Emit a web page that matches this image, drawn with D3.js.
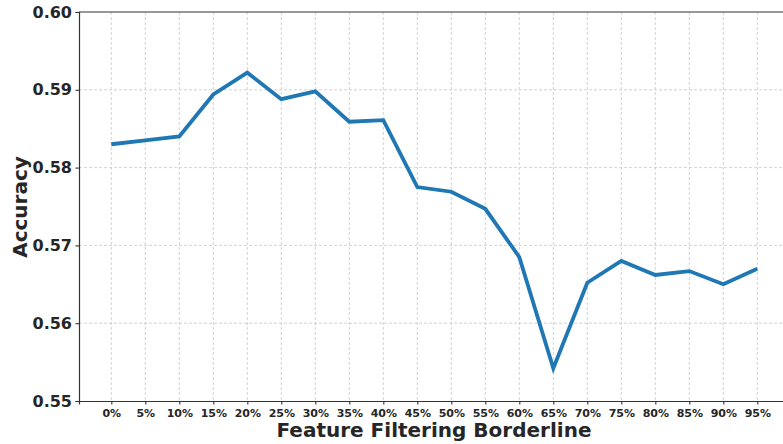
<!DOCTYPE html>
<html><head><meta charset="utf-8">
<script src="https://cdn.jsdelivr.net/npm/d3@7"></script>
<style>body{margin:0;background:#fff}svg{display:block}text{font-family:"DejaVu Sans",sans-serif;font-weight:bold;fill:#262626}</style>
</head><body><svg id="c" width="783" height="444"></svg>
<script>
const categories = ["0%","5%","10%","15%","20%","25%","30%","35%","40%","45%","50%","55%","60%","65%","70%","75%","80%","85%","90%","95%"];
const accuracy = [0.5830,0.5835,0.5840,0.5894,0.5922,0.5888,0.5898,0.5859,0.5861,0.5775,0.5769,0.5747,0.5685,0.5542,0.5652,0.5680,0.5662,0.5667,0.5650,0.5670];
const yTicks = [0.55,0.56,0.57,0.58,0.59,0.60];

const svg = d3.select("#c");
const m = {l:79, t:12, b:401};
const x = d3.scaleLinear().domain([-0.95, 19.95]).range([m.l, 789.6]);
const y = d3.scaleLinear().domain([0.55, 0.60]).range([m.b, m.t]);

// grid
svg.append("g").selectAll("line").data(categories).join("line")
  .attr("x1",(d,i)=>x(i)).attr("x2",(d,i)=>x(i)).attr("y1",m.t).attr("y2",m.b)
  .attr("stroke","#c8c8c8").attr("stroke-width",0.8).attr("stroke-dasharray","3,2");
svg.append("g").selectAll("line").data(yTicks.slice(1,-1)).join("line")
  .attr("x1",m.l).attr("x2",783).attr("y1",d=>y(d)).attr("y2",d=>y(d))
  .attr("stroke","#c8c8c8").attr("stroke-width",0.8).attr("stroke-dasharray","3,2");

// axes
const xa = svg.append("g").attr("transform",`translate(0,${m.b})`)
  .call(d3.axisBottom(x).tickValues(d3.range(categories.length)).tickFormat(i=>categories[i]).tickSize(3.5).tickPadding(4.5));
xa.selectAll("text").attr("font-size","11px").attr("font-family","DejaVu Sans").attr("font-weight","bold").attr("fill","#262626");
const ya = svg.append("g").attr("transform",`translate(${m.l},0)`)
  .call(d3.axisLeft(y).tickValues(yTicks).tickFormat(d3.format(".2f")).tickSize(3.5).tickPadding(3.5));
ya.selectAll("text").attr("font-size","16px").attr("font-family","DejaVu Sans").attr("font-weight","bold").attr("fill","#262626");
[xa,ya].forEach(a=>{a.selectAll(".domain").attr("stroke","#333").attr("stroke-width",1.2);a.selectAll(".tick line").attr("stroke","#333").attr("stroke-width",1.1);});
svg.append("line").attr("x1",m.l).attr("x2",783).attr("y1",m.t).attr("y2",m.t).attr("stroke","#333").attr("stroke-width",1.2);

// line
svg.append("path").datum(accuracy)
  .attr("d", d3.line().x((d,i)=>x(i)).y(d=>y(d)))
  .attr("fill","none").attr("stroke","#1f77b4").attr("stroke-width",3.8).attr("stroke-linejoin","miter");

// titles
svg.append("text").attr("x",434).attr("y",437).attr("text-anchor","middle").attr("font-size","20px").text("Feature Filtering Borderline");
svg.append("text").attr("transform","translate(27,207) rotate(-90)").attr("text-anchor","middle").attr("font-size","20px").text("Accuracy");
</script></body></html>
